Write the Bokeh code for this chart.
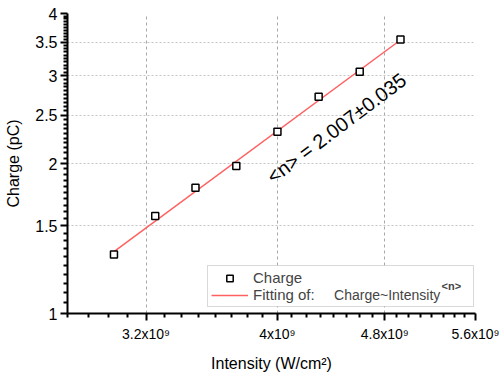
from bokeh.plotting import figure
from bokeh.models import (FixedTicker, Range1d, Label, BoxAnnotation, Legend,
                          LegendItem, ColumnDataSource)
from bokeh.embed import file_html
from bokeh.resources import INLINE

# ---- data ----
intensity = [3.03e9, 3.25e9, 3.48e9, 3.73e9, 4.00e9, 4.29e9, 4.60e9, 4.93e9]
charge = [1.313, 1.570, 1.789, 1.978, 2.317, 2.724, 3.057, 3.548]
fit_intensity = [3.03e9, 4.93e9]
fit_charge = [1.331, 3.539]
fit_text = "<n> = 2.007\u00b10.035"

x_ticks = [3200000000, 4000000000, 4800000000, 5600000000]
x_tick_labels = ["3.2x10\u2079", "4x10\u2079", "4.8x10\u2079", "5.6x10\u2079"]
y_ticks = [1, 1.5, 2, 2.5, 3, 3.5, 4]
y_tick_labels = ["1", "1.5", "2", "2.5", "3", "3.5", "4"]

x_minor = [int(round(2.8e9 + 1e8 * i)) for i in range(29)]
x_minor = [v for v in x_minor if v not in x_ticks]
y_minor = [round(1 + 0.05 * i, 2) for i in range(61)]
y_minor = [v for v in y_minor if v not in y_ticks]

FONT = "Liberation Sans"

p = figure(width=504, height=375, x_axis_type="log", y_axis_type="log",
           x_range=Range1d(2.8e9, 5.6e9), y_range=Range1d(1, 4),
           output_backend="svg", toolbar_location=None,
           min_border_left=67, min_border_right=29, min_border_top=13,
           min_border_bottom=62)
p.outline_line_color = None
p.background_fill_color = "white"
p.border_fill_color = "white"

# axes
p.xaxis.ticker = FixedTicker(ticks=x_ticks, minor_ticks=x_minor)
p.yaxis.ticker = FixedTicker(ticks=y_ticks, minor_ticks=y_minor)
p.xaxis.major_label_overrides = dict(zip(x_ticks, x_tick_labels))
p.yaxis.major_label_overrides = dict(zip(y_ticks, y_tick_labels))
for ax in (p.xaxis, p.yaxis):
    ax.axis_line_width = 2
    ax.axis_line_color = "black"
    ax.major_tick_line_width = 2
    ax.minor_tick_line_width = 2
    ax.major_tick_out = 7
    ax.major_tick_in = 0
    ax.minor_tick_out = 4
    ax.minor_tick_in = 0
    ax.major_label_text_font = FONT
    ax.axis_label_text_font = FONT
    ax.axis_label_text_font_style = "normal"
    ax.axis_label_text_font_size = "16px"
    ax.major_label_text_color = "black"
    ax.axis_label_text_color = "black"
p.xaxis.major_label_text_font_size = "14px"
p.yaxis.major_label_text_font_size = "16px"
p.xaxis.major_label_standoff = 5
p.yaxis.major_label_standoff = 3
p.xaxis.axis_label_standoff = 10
p.yaxis.axis_label_standoff = 10
p.xaxis.axis_label = "Intensity (W/cm\u00b2)"
p.yaxis.axis_label = "Charge (pC)"

# grids
p.xgrid.ticker = FixedTicker(ticks=x_ticks[:3])
p.ygrid.ticker = FixedTicker(ticks=y_ticks[1:-1])
p.xgrid.grid_line_color = "#a8a8a8"
p.xgrid.grid_line_dash = "3 3"
p.ygrid.grid_line_color = "#c4c4c4"
p.ygrid.grid_line_dash = "2 2"

# data
src = ColumnDataSource(dict(x=intensity, y=charge))
fit_src = ColumnDataSource(dict(x=fit_intensity, y=fit_charge))
r_fit = p.line("x", "y", source=fit_src, line_color="#ff6060", line_width=1.5)
r_pts = p.scatter("x", "y", source=src, marker="square", size=7,
                  line_color="black", line_width=1.5, fill_color="white")

# annotation
p.add_layout(Label(x=4.423e9, y=2.355, text=fit_text, angle=37, angle_units="deg",
                   text_align="center", text_baseline="middle",
                   text_font=FONT, text_font_size="20px", text_color="black"))

# legend frame + legend
p.add_layout(BoxAnnotation(left=140, right=406, bottom=7, top=48,
                           left_units="screen", right_units="screen",
                           bottom_units="screen", top_units="screen",
                           fill_color="white", fill_alpha=1,
                           line_color="#808080", line_width=1))
legend = Legend(items=[LegendItem(label="Charge", renderers=[r_pts]),
                       LegendItem(label="Fitting of:", renderers=[r_fit])],
                location=(141, 7), margin=0, padding=3, spacing=0,
                glyph_width=37, glyph_height=16, label_height=16,
                label_standoff=5, label_text_font=FONT,
                label_text_font_size="15px", background_fill_alpha=0,
                border_line_alpha=0)
p.add_layout(legend, "center")
p.add_layout(Label(x=266.6, y=18.5, x_units="screen", y_units="screen",
                   text="Charge~Intensity", text_font=FONT,
                   text_font_size="14px", text_baseline="alphabetic"))
p.add_layout(Label(x=374, y=27.5, x_units="screen", y_units="screen",
                   text="<n>", text_font=FONT, text_font_size="11px",
                   text_font_style="bold", text_baseline="alphabetic"))

open("out.html", "w").write(file_html(p, INLINE))
